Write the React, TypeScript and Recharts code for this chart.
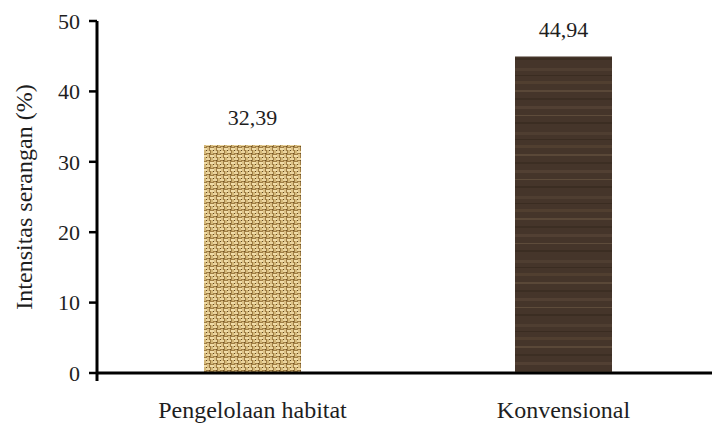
import { BarChart, Bar, XAxis, YAxis, Cell, LabelList } from 'recharts';

// Chart values
const CATEGORIES = ['Pengelolaan habitat', 'Konvensional'];
const VALUES = [32.39, 44.94];
const Y_TICKS = [0, 10, 20, 30, 40, 50];
const EDGE_TICKS = [0, 1, 2];
const Y_TITLE = 'Intensitas serangan (%)';

// textured fills (burlap / dark wood), one per bar
const BAR_FILLS = ['url(#burlap)', 'url(#wood)'];

const FONT = '"Liberation Serif", "DejaVu Serif", serif';
const INK = '#1e1e1e';

const data = CATEGORIES.map((name, i) => ({ name, value: VALUES[i] }));

function formatValue(v: number): string {
  return v.toFixed(2).replace('.', ',');
}

function YTitle(props: any) {
  const { viewBox } = props;
  const x = viewBox.x + 24;
  const y = viewBox.y + viewBox.height / 2;
  return (
    <text
      x={x}
      y={y}
      transform={`rotate(-90, ${x}, ${y})`}
      textAnchor="middle"
      dominantBaseline="central"
      fontFamily={FONT}
      fontSize={24}
      fill={INK}
    >
      {Y_TITLE}
    </text>
  );
}

export default function App() {
  return (
    <div style={{ position: 'absolute', left: 0, top: 0, width: 712, height: 423, overflow: 'hidden', background: '#fff' }}>
      <BarChart
        width={724}
        height={423}
        data={data}
        margin={{ top: 21, right: 5, bottom: 0, left: 0 }}
        barSize={97}
      >
        <defs>
          <pattern id="burlap" patternUnits="userSpaceOnUse" width="7" height="7">
            <rect x="0" y="0" width="7" height="7" fill="#a07e44" />
            <rect x="0" y="1" width="4" height="2" fill="#f0dca8" />
            <rect x="4" y="0" width="2" height="4" fill="#dcc186" />
            <rect x="3" y="4" width="4" height="2" fill="#ecd6a0" />
            <rect x="1" y="3" width="2" height="4" fill="#d3b778" />
            <rect x="3" y="3" width="1" height="1" fill="#5e4420" />
            <rect x="6" y="6" width="1" height="1" fill="#6b4f26" />
          </pattern>
          <pattern id="wood" patternUnits="userSpaceOnUse" width="100" height="64">
            <rect x="0" y="0" width="100" height="64" fill="#45352a" />
            <rect x="0" y="4" width="100" height="3" fill="#4f3e31" />
            <rect x="0" y="11" width="100" height="1" fill="#3a2c21" />
            <rect x="0" y="17" width="100" height="3" fill="#513f30" />
            <rect x="0" y="26" width="100" height="2" fill="#5a4838" />
            <rect x="0" y="34" width="100" height="2" fill="#3c2e23" />
            <rect x="0" y="42" width="100" height="3" fill="#524033" />
            <rect x="0" y="51" width="100" height="1" fill="#5e4c3b" />
            <rect x="0" y="58" width="100" height="2" fill="#3b2d22" />
          </pattern>
        </defs>

        <XAxis
          xAxisId="cat"
          dataKey="name"
          axisLine={false}
          tickLine={false}
          tickSize={0}
          tickMargin={20}
          height={42}
          interval={0}
          tick={{ fill: INK, fontSize: 24, fontFamily: FONT }}
        />
        <XAxis
          type="number"
          domain={[0, 2]}
          ticks={EDGE_TICKS}
          tickFormatter={() => ''}
          tickSize={8}
          tickLine={{ stroke: '#000', strokeWidth: 3 }}
          axisLine={{ stroke: '#000', strokeWidth: 3 }}
          height={8}
        />
        <YAxis
          domain={[0, 50]}
          ticks={Y_TICKS}
          interval={0}
          width={97}
          tickSize={8}
          tickMargin={9}
          tickLine={{ stroke: '#000', strokeWidth: 2.5 }}
          axisLine={{ stroke: '#000', strokeWidth: 3 }}
          tick={{ fill: INK, fontSize: 22, fontFamily: FONT }}
          label={<YTitle />}
        />

        <Bar dataKey="value" xAxisId="cat" isAnimationActive={false}>
          {data.map((d, i) => (
            <Cell key={d.name} fill={BAR_FILLS[i]} />
          ))}
          <LabelList
            dataKey="value"
            position="top"
            offset={20}
            formatter={(v: any) => formatValue(Number(v))}
            style={{ fill: INK, fontSize: 22, fontFamily: FONT }}
          />
        </Bar>
      </BarChart>
    </div>
  );
}
